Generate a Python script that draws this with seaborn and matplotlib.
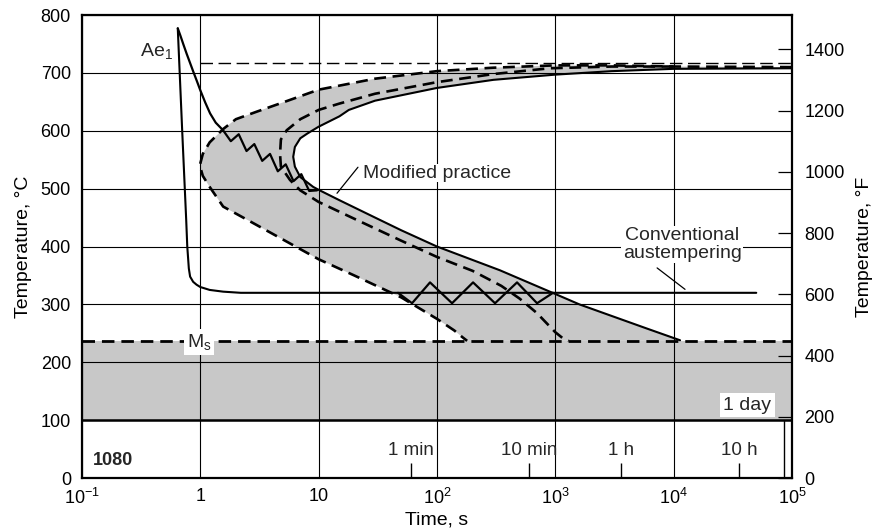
import matplotlib
matplotlib.use("Agg")
import matplotlib.pyplot as plt
import seaborn as sns
import pandas as pd

# ---------------- data ----------------
x_ticks = [0.1, 1, 10, 100, 1000, 1e4, 1e5]
x_tick_labels = [r"$10^{-1}$", "1", "10", r"$10^{2}$", r"$10^{3}$", r"$10^{4}$", r"$10^{5}$"]
y_ticks_c = [0, 100, 200, 300, 400, 500, 600, 700, 800]
y_ticks_f = [0, 200, 400, 600, 800, 1000, 1200, 1400]

ae1_T = 717          # thin dashed Ae1 line
ms_T = 237           # Ms line
band_low_T = 100     # bottom of the shaded martensite band

# outer dashed C-curve (upper right -> nose -> Ms)
outer_t = [1e5, 1e4, 3000, 1000, 300, 100, 30, 10, 5, 3, 2, 1.56, 1.2, 1.05, 0.99,
           1.05, 1.2, 1.56, 2.5, 5, 10, 20, 50, 100, 140, 165, 180]
outer_T = [710, 711, 713, 713, 709, 703, 690, 671, 649, 633, 620, 603, 580, 560, 540,
           522, 503, 469, 446, 412, 378, 350, 312, 275, 255, 243, 237]

# middle dashed C-curve
middle_t = [1e4, 3000, 900, 300, 100, 30, 15, 10, 7, 5.38, 4.8, 4.72, 4.8, 5.73, 7, 10,
            20, 50, 100, 200, 350, 500, 700, 850, 1000, 1150, 1300]
middle_T = [711, 711, 708, 698, 684, 664, 647, 636, 620, 601, 585, 560, 538, 515, 497, 477,
            448, 410, 382, 358, 332, 310, 285, 267, 252, 242, 237]

# solid C-curve
finish_t = [1e5, 1e4, 3000, 1000, 300, 100, 30, 18, 15, 10, 8, 7, 6.3, 6.1, 6.3, 7, 9, 10,
            15, 30, 50, 100, 340, 1000, 1600, 3000, 6000, 11350]
finish_T = [708, 707, 703, 697, 688, 674, 652, 636, 625, 607, 595, 587, 572, 555, 538, 520, 503, 498,
            480, 450, 428, 400, 359, 318, 300, 280, 258, 238]

# conventional austempering cooling path
conv_t = [0.645, 0.703, 0.76, 0.776, 0.80, 0.82, 0.87, 0.93, 1.0, 1.2, 1.56, 2.2, 5.0e4]
conv_T = [777, 600, 446, 400, 362, 348, 339, 334, 330, 325, 322, 320, 320]
conv_zz_t = [46.9, 61.6, 87.4, 134.2, 202, 309.8, 475.4, 702, 958]
conv_zz_T = [320, 302, 338, 302, 338, 302, 338, 302, 320]

# modified practice cooling path (with zigzag)
mod_t = [0.645, 0.68, 0.72, 0.767, 0.82, 0.873, 0.935, 1.0, 1.1, 1.21, 1.35, 1.556,
         1.811, 2.112, 2.458, 2.861, 3.337, 3.883, 4.52, 5.272, 6.135, 7.14, 8.328, 9.69]
mod_T = [777, 764, 749, 733, 717, 702, 686, 670, 649, 630, 614, 601,
         582, 594, 565, 577, 548, 560, 530, 542, 513, 525, 496, 497]

time_marks = [60, 600, 3600, 36000]
time_labels = ["1 min", "10 min", "1 h", "10 h"]
day_mark = 86400

# ---------------- style ----------------
sns.set_theme(style="white")
plt.rcParams["font.family"] = ["Liberation Sans", "DejaVu Sans"]
plt.rcParams["mathtext.fontset"] = "custom"
plt.rcParams["mathtext.rm"] = "Liberation Sans"
plt.rcParams["mathtext.it"] = "Liberation Sans:italic"

fig = plt.figure(figsize=(8.75, 5.29), dpi=100)
ax = fig.add_axes([0.0937, 0.0964, 0.9050 - 0.0937, 0.9716 - 0.0964])
ax.set_xscale("log")
ax.set_xlim(0.1, 1e5)
ax.set_ylim(0, 800)

shade = "#c8c8c8"
# martensite band
ax.axhspan(band_low_T, ms_T, color=shade, lw=0, zorder=1)
# C-curve band
poly_t = outer_t + [11350] + finish_t[::-1]
poly_T = outer_T + [ms_T] + finish_T[::-1]
ax.fill(poly_t, poly_T, color=shade, lw=0, zorder=1)

# grid
ax.set_xticks(x_ticks)
ax.set_xticklabels(x_tick_labels)
ax.set_yticks(y_ticks_c)
ax.minorticks_off()
ax.grid(True, color="black", lw=0.8, zorder=2)
ax.set_axisbelow(False)
ax.axhline(band_low_T, color="black", lw=1.8, zorder=3)

dash_thick = (0, (4.5, 2.5))
def line(t, T, **kw):
    df = pd.DataFrame({"t": t, "T": T})
    sns.lineplot(data=df, x="t", y="T", sort=False, estimator=None, ax=ax,
                 color="black", zorder=4, **kw)

line(outer_t, outer_T, lw=1.9, linestyle=dash_thick)
line(middle_t, middle_T, lw=1.9, linestyle=dash_thick)
line(finish_t, finish_T, lw=1.5)
line(conv_t, conv_T, lw=1.5)
line(conv_zz_t, conv_zz_T, lw=1.6)
line(mod_t, mod_T, lw=1.6)
ax.axhline(ms_T, color="black", lw=2.0, linestyle=dash_thick, zorder=4)
ax.hlines(ae1_T, 1.0, 1e5, color="black", lw=1.0, linestyles=(0, (9, 4)), zorder=4)

# time marks
ax.vlines(time_marks, 0, 26, color="black", lw=1.0, zorder=4)
ax.vlines([day_mark], 0, band_low_T, color="black", lw=1.0, zorder=4)
for tm, lab in zip(time_marks, time_labels):
    ax.text(tm, 48, lab, ha="center", va="center", fontsize=13.5, zorder=6)

# annotations
white_box = dict(facecolor="white", edgecolor="none", pad=2)
ax.text(0.585, 737, r"Ae$_1$", ha="right", va="center", fontsize=14)
ax.text(0.975, 235, r"M$_\mathrm{s}$", ha="center", va="center", fontsize=14, zorder=6,
        bbox=white_box)
ax.text(41800, 126, "1 day", ha="center", va="center", fontsize=14, zorder=6,
        bbox=dict(facecolor="white", edgecolor="none", pad=2.5))
ax.text(0.124, 31, "1080", ha="left", va="center", fontsize=13, fontweight="bold", zorder=6)
ax.text(23.7, 527, "Modified practice", ha="left", va="center", fontsize=14, zorder=6,
        bbox=dict(facecolor="white", edgecolor="none", pad=0.5))
ax.plot([14.3, 21.5], [492, 537], color="black", lw=0.9, zorder=5)
ax.text(11800, 404, "Conventional\naustempering", ha="center", va="center", fontsize=14,
        linespacing=1.05, zorder=6, bbox=dict(facecolor="white", edgecolor="none", pad=1))
ax.plot([7260, 12500], [363, 326], color="black", lw=0.9, zorder=5)

# axes styling
for s in ax.spines.values():
    s.set_color("black")
    s.set_linewidth(1.6)
ax.tick_params(axis="both", length=0, labelsize=13, colors="black")
ax.tick_params(axis="x", pad=7)
ax.tick_params(axis="y", pad=8)
ax.set_xlabel("Time, s", fontsize=14, labelpad=3, color="black")
ax.set_ylabel("Temperature, °C", fontsize=14, labelpad=6, color="black")

ax2 = ax.twinx()
ax2.set_ylim(0, 1512)
ax2.set_yticks(y_ticks_f)
ax2.tick_params(axis="y", direction="in", length=10, width=0.9, labelsize=13, pad=9, colors="black")
ax2.set_ylabel("Temperature, °F", fontsize=14, labelpad=8, color="black")
for s in ax2.spines.values():
    s.set_visible(False)

fig.savefig("out.png", dpi=100)
